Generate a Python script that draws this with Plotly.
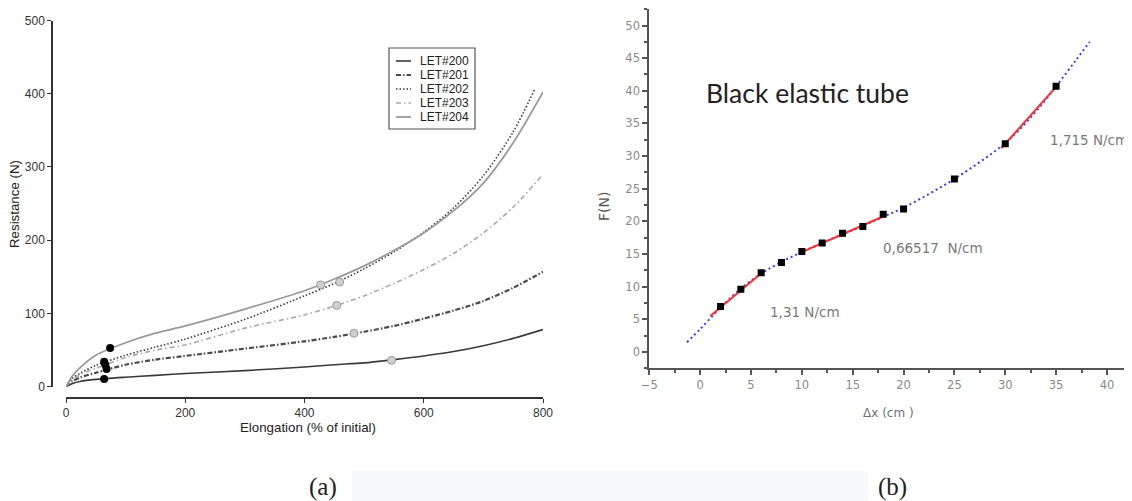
import plotly.graph_objects as go

# page body has an 8px margin: figure size reduced and coordinates shifted
OFF = 8
W, H = 1132 - OFF, 501 - OFF

# ---------------- Panel (a) data ----------------
elong = [0, 10, 25, 50, 100, 150, 200, 300, 400, 450, 500, 550, 600, 650, 700, 750, 800]
let200 = [0, 4, 7.5, 10, 13, 15.5, 18, 22, 27, 30, 32.5, 37, 42, 48, 56, 66, 78]
let201 = [0, 7, 13, 19, 30, 37, 42, 52, 62, 68, 75, 83, 93, 104, 117, 135, 157]
let203 = [0, 9, 17, 25, 40, 50, 57, 80, 98, 110, 124, 141, 160, 182, 210, 245, 290]
elong202 = [0, 10, 25, 50, 100, 150, 200, 300, 400, 450, 500, 550, 600, 650, 700, 750, 786]
let202 = [0, 11, 19, 29, 43, 54, 65, 92, 124, 141, 161, 184, 211, 244, 288, 348, 406]
let204 = [0, 14, 27, 43, 60, 73, 83, 106, 131, 147, 165, 186, 210, 240, 278, 333, 402]

names = ["LET#200", "LET#201", "LET#202", "LET#203", "LET#204"]
black_x = [64, 68, 64, 66, 74]
black_y = [10.5, 24, 34, 30, 53]
gray_x = [546, 483, 459, 454, 427]
gray_y = [36, 73, 143, 111, 139]

# ---------------- Panel (b) data ----------------
dx = [2, 4, 6, 8, 10, 12, 14, 16, 18, 20, 25, 30, 35]
force = [6.95, 9.6, 12.15, 13.7, 15.4, 16.7, 18.2, 19.2, 21.1, 21.9, 26.5, 31.9, 40.7]
fit_x = [-1.3, 0, 2, 4, 6, 8, 10, 12, 14, 16, 18, 20, 22.5, 25, 27.5, 30, 32.5, 35, 37, 38.3]
fit_y = [1.5, 3.5, 6.8, 9.7, 12.0, 13.8, 15.3, 16.7, 18.0, 19.3, 20.7, 22.1, 24.2, 26.5, 29.1, 32.0, 35.9, 40.7, 44.8, 47.5]
seg1_x = [1.0, 6.3]
seg1_y = [5.5, 12.45]
seg2_x = [9.7, 18.2]
seg2_y = [15.1, 20.9]
seg3_x = [29.6, 35.1]
seg3_y = [31.2, 40.8]

fig = go.Figure()

styles = [
    dict(color="#3a3a3a", width=1.6, dash="solid"),
    dict(color="#4a4a4a", width=2.2, dash="5px,2px,1.5px,2px"),
    dict(color="#3a3a3a", width=1.6, dash="1.5px,2px"),
    dict(color="#a8a8a8", width=1.6, dash="5px,3px,1.5px,3px"),
    dict(color="#9a9a9a", width=1.8, dash="solid"),
]
series = [(elong, let200), (elong, let201), (elong202, let202), (elong, let203), (elong, let204)]
for (xs, ys), st, nm in zip(series, styles, names):
    fig.add_trace(go.Scatter(x=xs, y=ys, mode="lines", line=dict(shape="spline", smoothing=0.8, **st),
                             name=nm, showlegend=False, xaxis="x", yaxis="y"))

fig.add_trace(go.Scatter(x=gray_x, y=gray_y, mode="markers",
                         marker=dict(size=8, color="#cfcfcf", line=dict(color="#9a9a9a", width=1)),
                         showlegend=False, xaxis="x", yaxis="y", cliponaxis=False))
fig.add_trace(go.Scatter(x=black_x, y=black_y, mode="markers",
                         marker=dict(size=8, color="#000000"),
                         showlegend=False, xaxis="x", yaxis="y", cliponaxis=False))

# panel (b)
fig.add_trace(go.Scatter(x=fit_x, y=fit_y, mode="lines",
                         line=dict(color="#3c3cff", width=2, dash="2px,3px", shape="spline"),
                         showlegend=False, xaxis="x2", yaxis="y2"))
for sx, sy in [(seg1_x, seg1_y), (seg2_x, seg2_y), (seg3_x, seg3_y)]:
    fig.add_trace(go.Scatter(x=sx, y=sy, mode="lines", line=dict(color="#ff3030", width=2),
                             showlegend=False, xaxis="x2", yaxis="y2"))
fig.add_trace(go.Scatter(x=dx, y=force, mode="markers",
                         marker=dict(symbol="square", size=7, color="#000000"),
                         showlegend=False, xaxis="x2", yaxis="y2"))


def px(xp):
    return (xp - OFF) / W


def py(yp):
    return 1 - (yp - OFF) / H


left_axis_font = dict(family="Liberation Sans, Arial", size=12, color="#333333")
right_axis_font = dict(family="DejaVu Sans", size=11.5, color="#8a8a8a")

fig.update_layout(
    template="none",
    width=W, height=H, margin=dict(l=0, r=0, t=0, b=0, pad=0, autoexpand=False),
    paper_bgcolor="white", plot_bgcolor="white",
    xaxis=dict(domain=[px(66), px(543)], range=[0, 800], anchor="free", position=py(398),
               showline=True, linecolor="#333333", linewidth=1.5, ticks="outside", ticklen=4,
               tickcolor="#333333", tickwidth=1.2, tickvals=[0, 200, 400, 600, 800], automargin=False,
               showgrid=False, zeroline=False, tickfont=left_axis_font),
    yaxis=dict(domain=[py(386.7), py(20.5)], range=[0, 500], anchor="free", position=px(52),
               showline=True, linecolor="#333333", linewidth=1.5, ticks="outside", ticklen=4,
               tickcolor="#333333", tickwidth=1.2, tickvals=[0, 100, 200, 300, 400, 500], automargin=False,
               showgrid=False, zeroline=False, tickfont=left_axis_font),
    xaxis2=dict(domain=[px(649.3), px(1127.3)], range=[-5, 42], anchor="y2",
                showline=True, linecolor="#555555", linewidth=2, ticks="outside", ticklen=5,
                tickcolor="#555555", tickwidth=1.5, dtick=5, tick0=0, automargin=False,
                minor=dict(ticks="outside", ticklen=3, tickcolor="#555555", dtick=2.5, tick0=0, showgrid=False),
                showgrid=False, zeroline=False, tickfont=right_axis_font),
    yaxis2=dict(domain=[py(368.3), py(9.2)], range=[-2.5, 52.5], anchor="x2",
                showline=True, linecolor="#555555", linewidth=2, ticks="outside", ticklen=5,
                tickcolor="#555555", tickwidth=1.5, dtick=5, tick0=0, automargin=False,
                minor=dict(ticks="outside", ticklen=3, tickcolor="#555555", dtick=2.5, tick0=0, showgrid=False),
                showgrid=False, zeroline=False, tickfont=right_axis_font),
)

C = dict(xanchor="center", yanchor="middle", showarrow=False)
lbl_font = dict(family="DejaVu Sans", size=13.5, color="#7a7a7a")
ann = []
# axis titles (a)
ann.append(dict(text="Elongation (% of initial)", x=px(308), y=py(427), xref="paper", yref="paper",
                font=dict(family="Liberation Sans, Arial", size=13.3, color="#222222"), **C))
ann.append(dict(text="Resistance (N)", x=px(14), y=py(204), xref="paper", yref="paper", textangle=-90,
                font=dict(family="Liberation Sans, Arial", size=13.3, color="#222222"), **C))
# axis titles (b)
ann.append(dict(text="F(N)", x=px(604), y=py(207), xref="paper", yref="paper", textangle=-90,
                font=dict(family="DejaVu Sans", size=14, color="#555555"), **C))
ann.append(dict(text="Δx (cm )", x=px(889), y=py(413), xref="paper", yref="paper",
                font=dict(family="DejaVu Sans", size=12, color="#707070"), **C))
# in-plot text (b)
ann.append(dict(text="Black elastic tube", x=10.55, y=39.7, xref="x2", yref="y2",
                font=dict(family="Lato, Open Sans", size=26.5, color="#222222"), **C))
ann.append(dict(text="1,31 N/cm", x=10.35, y=6.2, xref="x2", yref="y2", font=lbl_font, **C))
ann.append(dict(text="0,66517\u00a0 N/cm", x=22.9, y=15.9, xref="x2", yref="y2", font=lbl_font, **C))
ann.append(dict(text="1,715 N/cm", x=38.2, y=32.5, xref="x2", yref="y2", font=lbl_font, **C))
# captions
ann.append(dict(text="(a)", x=px(323), y=py(487), xref="paper", yref="paper",
                font=dict(family="Liberation Serif, DejaVu Serif", size=25, color="#222222"), **C))
ann.append(dict(text="(b)", x=px(892), y=py(487), xref="paper", yref="paper",
                font=dict(family="Liberation Serif, DejaVu Serif", size=25, color="#222222"), **C))

shapes = []
# faint caption band
shapes.append(dict(type="rect", xref="paper", yref="paper", x0=px(352), x1=px(868), y0=py(501), y1=py(471),
                   fillcolor="#f8f9fa", line=dict(width=0), layer="below"))
# manual legend for (a)
shapes.append(dict(type="rect", xref="paper", yref="paper", x0=px(389), x1=px(475), y0=py(129), y1=py(48),
                   line=dict(color="#555555", width=1.2), fillcolor="white"))
for i, (nm, st) in enumerate(zip(names, styles)):
    yy = 61 + 14 * i
    shapes.append(dict(type="line", xref="paper", yref="paper", x0=px(396), x1=px(411), y0=py(yy), y1=py(yy),
                       line=dict(color=st["color"], width=st["width"], dash=st["dash"])))
    ann.append(dict(text=nm, x=px(418), y=py(yy), xref="paper", yref="paper", xanchor="left",
                    yanchor="middle", showarrow=False,
                    font=dict(family="Liberation Sans, Arial", size=12, color="#222222")))

fig.update_layout(annotations=ann, shapes=shapes)
fig.write_html("out.html")
